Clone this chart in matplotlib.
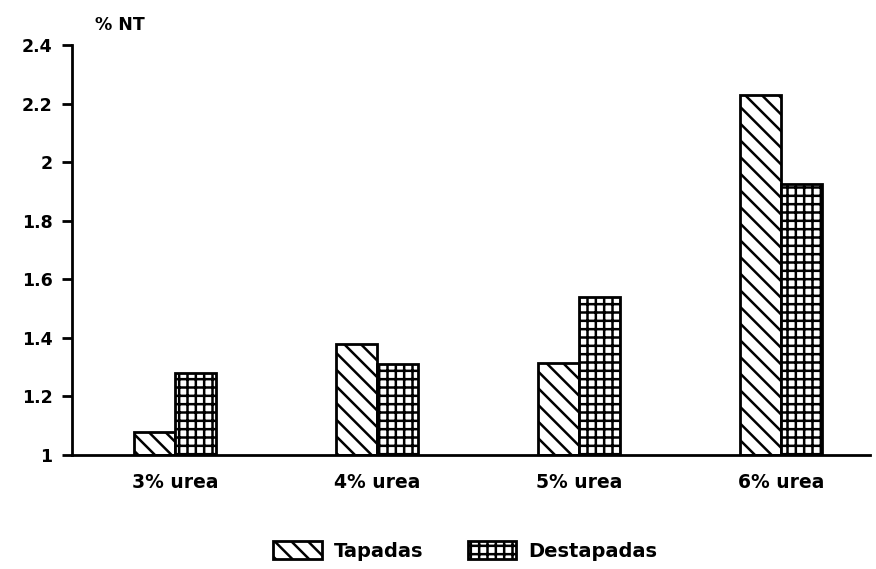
import matplotlib
matplotlib.use("Agg")
import matplotlib.pyplot as plt
import numpy as np

categories = ["3% urea", "4% urea", "5% urea", "6% urea"]
tapadas = [1.08, 1.38, 1.315, 2.23]
destapadas = [1.28, 1.31, 1.54, 1.925]
series_names = ["Tapadas", "Destapadas"]
yticks = [1, 1.2, 1.4, 1.6, 1.8, 2, 2.2, 2.4]
ytick_labels = ["1", "1.2", "1.4", "1.6", "1.8", "2", "2.2", "2.4"]

plt.rcParams['font.family'] = ['DejaVu Sans']
plt.rcParams['font.weight'] = 'bold'
plt.rcParams['hatch.linewidth'] = 1.8

fig = plt.figure(figsize=(8.76, 5.69), dpi=100)
ax = fig.add_axes([72/876, 1 - 455/569, (870-72)/876, (455-45)/569])

x = np.arange(len(categories))
w = 0.203
ax.bar(x - w/2, np.array(tapadas) - 1, w, bottom=1, color='white', edgecolor='black',
       linewidth=2, hatch='\\\\', label=series_names[0])
ax.bar(x + w/2, np.array(destapadas) - 1, w, bottom=1, color='white', edgecolor='black',
       linewidth=2, hatch='++', label=series_names[1])

ax.set_xlim(-0.51, 3.44)
ax.set_ylim(1, 2.4)
ax.set_yticks(yticks)
ax.set_yticklabels(ytick_labels, fontsize=12.5, fontweight='bold')
ax.set_xticks(x)
ax.set_xticklabels(categories, fontsize=13.5, fontweight='bold')
ax.tick_params(axis='x', length=0, pad=13)
ax.tick_params(axis='y', length=7, width=2, pad=7, direction='out')
for s in ['top', 'right']:
    ax.spines[s].set_visible(False)
ax.spines['left'].set_linewidth(2)
ax.spines['bottom'].set_linewidth(2)

fig.text(95/876, 1 - 25/569, "% NT", fontsize=12.5, fontweight='bold', va='center', ha='left')

leg = fig.legend(loc='center', bbox_to_anchor=(465/876, 1 - 551/569), ncol=2, frameon=False,
                 fontsize=14, handlelength=2.5, handleheight=1.0, columnspacing=2.3,
                 handletextpad=0.6)

fig.savefig("out.png", dpi=100)
